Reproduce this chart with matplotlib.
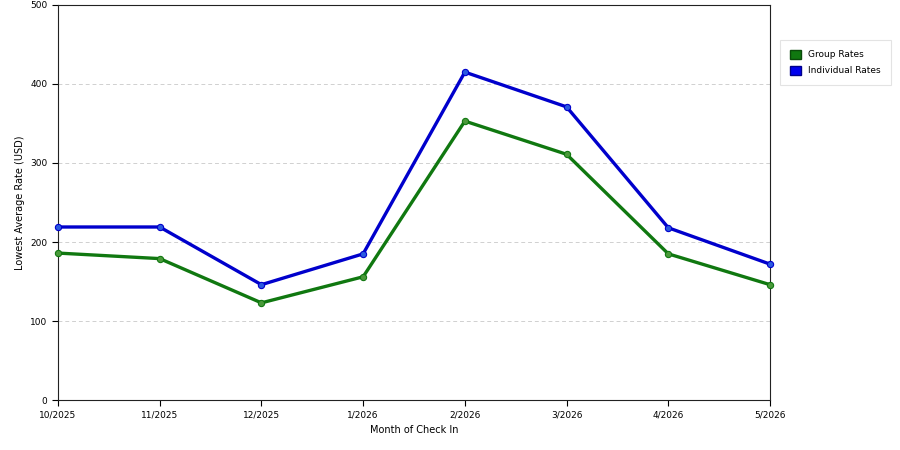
import matplotlib
matplotlib.use("Agg")
import matplotlib.pyplot as plt
from matplotlib.patches import Patch

months = ["10/2025", "11/2025", "12/2025", "1/2026", "2/2026", "3/2026", "4/2026", "5/2026"]
group_rates = [186, 179, 123, 156, 353, 311, 185, 146]
individual_rates = [219, 219, 146, 185, 415, 371, 218, 172]

plt.rcParams['font.family'] = ['DejaVu Sans']
fig = plt.figure(figsize=(9, 4.5), dpi=100)
ax = fig.add_axes([0.0644, 0.111, 0.7912, 0.878])

x = list(range(len(months)))
ax.plot(x, group_rates, color="#107810", lw=2.4, marker="o", ms=4.5,
        mfc="#4a9a3a", mec="#107810", mew=0.8, zorder=3, clip_on=False)
ax.plot(x, individual_rates, color="#0000cc", lw=2.4, marker="o", ms=4.5,
        mfc="#2a5ae0", mec="#0000cc", mew=0.8, zorder=3, clip_on=False)

ax.set_xlim(0, len(months) - 1)
ax.set_ylim(0, 500)
ax.set_xticks(x)
ax.set_xticklabels(months, fontsize=6.5)
ax.set_yticks([0, 100, 200, 300, 400, 500])
ax.tick_params(axis="y", labelsize=6.5, length=4, width=0.8)
ax.tick_params(axis="x", length=4, width=0.8)
for y in [100, 200, 300, 400]:
    ax.axhline(y, color="#d0d0d0", lw=0.7, ls=(0, (4, 3)), zorder=1)
for s in ax.spines.values():
    s.set_linewidth(0.8)
    s.set_color("#222222")

ax.set_xlabel("Month of Check In", fontsize=7)
ax.set_ylabel("Lowest Average Rate (USD)", fontsize=7)

handles = [Patch(facecolor="#107810", edgecolor="#0a4a0a", label="Group Rates"),
           Patch(facecolor="#0000ee", edgecolor="#00008a", label="Individual Rates")]
leg = fig.legend(handles=handles, loc="upper left", bbox_to_anchor=(0.862, 0.922),
                 fontsize=6.5, frameon=True, fancybox=False, handlelength=1.2,
                 handleheight=1.2, borderpad=1.1, labelspacing=0.7)
leg.get_frame().set_edgecolor("#dddddd")
leg.get_frame().set_linewidth(0.8)

fig.savefig("out.png", dpi=100)
